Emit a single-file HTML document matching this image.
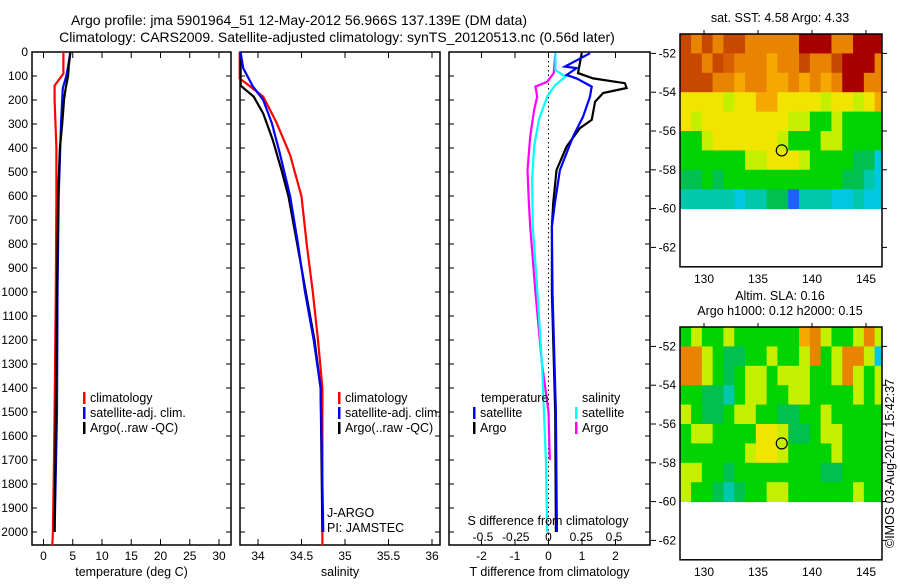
<!DOCTYPE html>
<html><head><meta charset="utf-8"><style>
body{margin:0;background:#fff}
svg text{font-family:"Liberation Sans",sans-serif;fill:#000}
</style></head><body>
<svg id="fig" width="900" height="580" viewBox="0 0 900 580" xmlns="http://www.w3.org/2000/svg">
<rect width="900" height="580" fill="#fff"/>
<text x="299" y="25" font-size="14" text-anchor="middle">Argo profile: jma 5901964_51 12-May-2012 56.966S 137.139E (DM data)</text>
<text x="337" y="42" font-size="14" text-anchor="middle">Climatology: CARS2009. Satellite-adjusted climatology: synTS_20120513.nc (0.56d later)</text>
<g id="g"></g>
</svg>
<script>
// ---- data ----
const tDepthClim=[0,90,140,200,400,600,1000,1500,1700,2000,2055];
const tClim=[3.4,3.4,1.9,1.9,2.2,2.2,2.1,1.9,1.8,1.6,1.5];
const tDepthSat=[0,60,100,150,300,600,1000,1500,2000];
const tSat=[4.6,4.2,3.9,3.3,3.0,2.6,2.4,2.3,1.9];
const tDepthArgo=[0,60,100,150,200,300,400,600,1000,1500,2000];
const tArgo=[4.6,4.3,4.2,3.8,3.5,3.2,2.8,2.5,2.3,2.1,1.9];
const sDepthClim=[0,111,132,186,292,430,602,800,1000,1200,1400,2055];
const sClim=[33.79,33.79,33.87,34.06,34.21,34.37,34.50,34.56,34.63,34.69,34.74,34.74];
const sDepthSat=[0,67,143,200,297,422,602,800,1000,1200,1400,2000];
const sSat=[33.80,33.83,33.94,34.06,34.16,34.25,34.37,34.46,34.54,34.64,34.72,34.75];
const sDepthArgo=[0,140,186,256,367,492,602,800,1000,1200,1400,2000];
const sArgo=[33.80,33.80,33.95,34.06,34.17,34.27,34.35,34.45,34.55,34.65,34.72,34.74];
const dDepthTA=[5,88,110,130,150,171,207,283,317,394,492,630,727,1000,1500,2000];
const dTArgo=[0.99,0.88,1.33,2.28,2.33,1.63,1.39,1.29,0.94,0.54,0.24,0.14,0.10,0.10,0.20,0.22];
const dDepthTS=[5,61,67,96,110,144,186,270,353,492,630,727,1000,1500,2000];
const dTSat=[1.24,0.49,0.84,0.54,0.84,1.29,1.24,1.03,0.73,0.34,0.19,0.10,0.12,0.22,0.25];
const dDepthSS=[5,75,103,137,186,283,394,533,727,1000,1300,1700,2000];
const dSSat=[0.053,0.053,0.13,0.053,-0.01,-0.074,-0.11,-0.125,-0.12,-0.085,-0.05,-0.02,-0.01];
const dDepthSA=[5,88,124,144,186,242,353,492,630,727,1000,1300,1500,1700];
const dSArgo=[0.053,0.04,-0.01,-0.10,-0.086,-0.11,-0.14,-0.16,-0.15,-0.14,-0.10,-0.05,0.0,0.01];
const depthTicks=[0,100,200,300,400,500,600,700,800,900,1000,1100,1200,1300,1400,1500,1600,1700,1800,1900,2000];
const tTicks=[0,5,10,15,20,25,30];
const sTicks=[34,34.5,35,35.5,36];
const dtTicks=[-2,-1,0,1,2];
const dsTicks=[-0.5,-0.25,0,0.25,0.5];
const latTicks=[-52,-54,-56,-58,-60,-62];
const lonTicks=[130,135,140,145];
const sstRows=[
"RORORROOOOODDDOODDD","RRORPOOOoOOROORDDDO","RRROOoOOooOoOoODDOO","YYYYyYYooYYYYyYYyYo",
"YyYYYYYYYYyyGGyGGGG","GGyYYYYYYyGGGyyGGGG","GGGGGGyyYYYyGGGGggC","ggGgGGGGGGGGGGGggTC","TTTTTCTTggBTTTCCTCC"];
const slaRows=[
"GyGGyGGGGGGoOyGGyOy","OOyGggGGyGGyOGyOOyC","OOyGgGyyGyyyGGyOyGy","GGggTGyyGGyyGGGGyGy",
"yGggGyyGGggGGyGGGGG","GyyGGGGYYyggGyyGGGG","GGGGGGyYYyGGGGyGGGG","yyGGgGGGGGGGGggGGGG","yGGgTgGGyyGGGGGGyGG"];
const argoLon=137.2, argoLat=-57.0;
// ---- drawing ----
const NS='http://www.w3.org/2000/svg', G=document.getElementById('g');
function mk(tag,attrs,parent){const e=document.createElementNS(NS,tag);for(const k in attrs)e.setAttribute(k,attrs[k]);(parent||G).appendChild(e);return e;}
const Y=d=>52+d*0.24;
const P1={l:32,r:231}, P2={l:240,r:440}, P3={l:449,r:650}, TOP=52, BOT=545;
const xT=t=>43.5+t*5.85, xS=s=>258+(s-34)*87, xDT=v=>548.5+v*33.5, xDS=v=>548.5+v*131;
function line(xs,ds,fx,color,name){
  const p=mk('polyline',{points:xs.map((v,i)=>fx(v).toFixed(1)+','+Y(ds[i]).toFixed(1)).join(' '),fill:'none',stroke:color,'stroke-width':2.2});
  
  
}
function panel(P,name,ticks,fx,labels,xlabel){
  const b=mk('rect',{x:P.l,y:TOP,width:P.r-P.l,height:BOT-TOP,fill:'none',stroke:'#000','stroke-width':1.5});
  
  
  depthTicks.forEach(d=>{mk('line',{x1:P.l,x2:P.l+5,y1:Y(d),y2:Y(d),stroke:'#000'});mk('line',{x1:P.r-5,x2:P.r,y1:Y(d),y2:Y(d),stroke:'#000'});});
  if(ticks) ticks.forEach(t=>{const x=fx(t);mk('line',{x1:x,x2:x,y1:TOP,y2:TOP+6,stroke:'#000'});mk('line',{x1:x,x2:x,y1:BOT-6,y2:BOT,stroke:'#000'});
    if(labels){const tx=mk('text',{x:x,y:560,'font-size':12,'text-anchor':'middle'});tx.textContent=String(t);
    
    }});
  const xl=mk('text',{x:(P.l+P.r)/2,y:576,'font-size':12.5,'text-anchor':'middle'});xl.textContent=xlabel;
  
  
}
depthTicks.forEach(d=>{const t=mk('text',{x:28,y:Y(d)+4,'font-size':12,'text-anchor':'end'});t.textContent=d;
  
  });
panel(P1,'temperature-panel',tTicks,xT,true,'temperature (deg C)');
panel(P2,'salinity-panel',sTicks,xS,true,'salinity');
panel(P3,'difference-panel',dtTicks,xDT,true,'T difference from climatology');
dsTicks.forEach(v=>{const t=mk('text',{x:xDS(v),y:541,'font-size':12,'text-anchor':'middle'});t.textContent=String(v);
  
  });
mk('line',{x1:548.5,x2:548.5,y1:TOP,y2:BOT,stroke:'#000','stroke-dasharray':'1.5,3'});
line(tClim,tDepthClim,xT,'#ff0000','temp-climatology-line');
line(tSat,tDepthSat,xT,'#0000ff','temp-satellite-line');
line(tArgo,tDepthArgo,xT,'#000','temp-argo-line');
line(sClim,sDepthClim,xS,'#ff0000','sal-climatology-line');
line(sArgo,sDepthArgo,xS,'#000','sal-argo-line');
line(sSat,sDepthSat,xS,'#0000ff','sal-satellite-line');
line(dSArgo,dDepthSA,xDS,'#ff00ff','s-diff-argo-line');
line(dSSat,dDepthSS,xDS,'#00ffff','s-diff-satellite-line');
line(dTArgo,dDepthTA,xDT,'#000','t-diff-argo-line');
line(dTSat,dDepthTS,xDT,'#0000ff','t-diff-satellite-line');
function txt(x,y,s,name,size,anchor){const t=mk('text',{x:x,y:y,'font-size':size||12.5,'text-anchor':anchor||'start'});t.textContent=s;
  
  return t;}
function leg(x,y,color,s,name){mk('rect',{x:x,y:y-10,width:2.5,height:12,fill:color});txt(x+7,y,s,name);}
leg(83,402,'#ff0000','climatology','legend-climatology');
leg(83,417,'#0000ff','satellite-adj. clim.','legend-satellite-adj');
leg(83,432,'#000','Argo(..raw -QC)','legend-argo');
leg(338,402,'#ff0000','climatology','legend-climatology-2');
leg(338,417,'#0000ff','satellite-adj. clim.','legend-satellite-adj-2');
leg(338,432,'#000','Argo(..raw -QC)','legend-argo-2');
txt(481,402,'temperature','legend-temperature-heading');
txt(582,402,'salinity','legend-salinity-heading');
leg(473,417,'#0000ff','satellite','legend-t-satellite');
leg(473,432,'#000','Argo','legend-t-argo');
leg(575,417,'#00ffff','satellite','legend-s-satellite');
leg(575,432,'#ff00ff','Argo','legend-s-argo');
txt(327,517,'J-ARGO','j-argo-label');
txt(327,532,'PI: JAMSTEC','pi-label');
txt(548,525,'S difference from climatology','s-diff-axis-title',12.5,'middle');
// maps
const COL={D:'#a80000',R:'#c84800',P:'#d86000',O:'#e88400',o:'#f4a800',Y:'#f0e400',y:'#c4f000',G:'#00d400',g:'#00c050',T:'#00c8a8',C:'#00c8e0',B:'#2060ff'};
const LX=lon=>704+(lon-130)*10.8;
function map(top,rows,name,titles){
  const yl=lat=>top+(-51-lat)*19.4;
  const l=680,r=882;
  rows.forEach((row,j)=>{[...row].forEach((c,i)=>{
    const x0=Math.max(l,LX(127.8+i)), x1=Math.min(r,LX(128.8+i));
    const y0=yl(-51-j), y1=yl(-52-j);
    const c2=mk('rect',{x:x0,y:y0,width:x1-x0+0.5,height:y1-y0+0.5,fill:COL[c]});
    
    
  });});
  const b=mk('rect',{x:l,y:top,width:r-l,height:yl(-63)-top,fill:'none',stroke:'#000','stroke-width':1.5});
  
  
  latTicks.forEach(v=>{const y=yl(v);mk('line',{x1:651,x2:656,y1:y,y2:y,stroke:'#000'});mk('line',{x1:r,x2:r+5,y1:y,y2:y,stroke:'#000'});
    txt(676,y+4,String(v),name+'-lat-label',12,'end');});
  lonTicks.forEach(v=>{const x=LX(v);mk('line',{x1:x,x2:x,y1:top-4,y2:top,stroke:'#000'});
    txt(x,yl(-63)+16,String(v),name+'-lon-label',12,'middle');});
  const c=mk('circle',{cx:LX(argoLon),cy:yl(argoLat),r:5.5,fill:'none',stroke:'#000','stroke-width':1.2});
  
  
  titles.forEach((s,k)=>txt(780,top-(titles.length-k)*15+3,s,name+'-title',12.5,'middle'));
}
map(34,sstRows,'sst-map',['sat. SST: 4.58 Argo: 4.33']);
map(327,slaRows,'sla-map',['Altim. SLA: 0.16','Argo h1000: 0.12 h2000: 0.15']);
const cp=txt(0,0,'©IMOS 03-Aug-2017 15:42:37','copyright-stamp',12.5,'start');
cp.setAttribute('transform','translate(894,548) rotate(-90)');
</script>
</body></html>
